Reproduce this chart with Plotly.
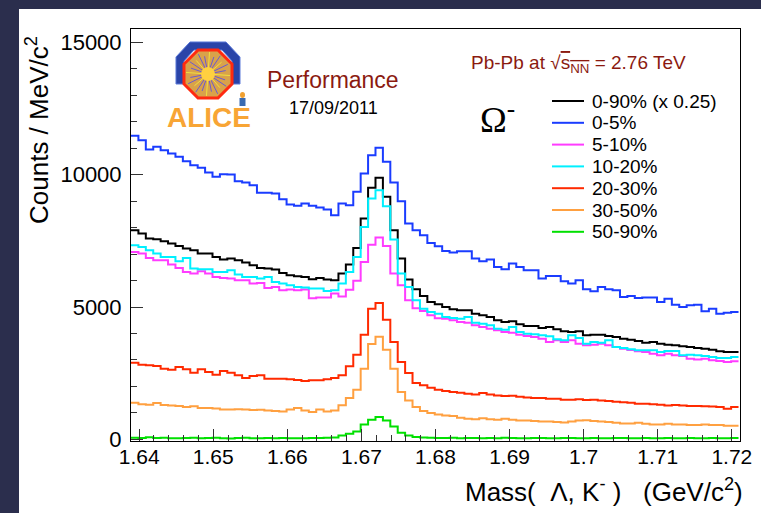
import numpy as np
import plotly.graph_objects as go

# ---------------- data ----------------
bin_low = 1.6389
bin_width = 0.001
n_bins = 82

labels = ["0-90% (x 0.25)", "0-5%", "5-10%", "10-20%", "20-30%", "30-50%", "50-90%"]
colors = ["#000000", "#1a3cff", "#ff3cff", "#00f0ff", "#ff2a00", "#ffa040", "#00e000"]

c0_90 = [7900, 7774, 7585, 7560, 7484, 7396, 7308, 7207, 7144, 7018, 7018, 6892, 6791, 6829, 6766, 6678,
         6577, 6476, 6451, 6413, 6287, 6199, 6161, 6136, 6048, 6098, 6035, 6010, 6262, 6602, 7232, 8341,
         9500, 9878, 9160, 7900, 6829, 6035, 5670, 5418, 5191, 5103, 5002, 4914, 4876, 4876, 4750, 4687,
         4624, 4498, 4435, 4460, 4347, 4284, 4284, 4208, 4246, 4158, 4082, 4057, 4082, 3931, 3956, 3956,
         3906, 3868, 3805, 3767, 3717, 3654, 3679, 3616, 3578, 3553, 3515, 3490, 3452, 3427, 3389, 3326,
         3301, 3301]
c0_5 = [11466, 11302, 10949, 11050, 10924, 10798, 10672, 10508, 10357, 10256, 10080, 9916, 10017, 10004,
        9752, 9702, 9601, 9311, 9311, 9286, 9072, 8870, 8820, 8908, 8820, 8757, 8681, 8467, 8908, 8845,
        9349, 10042, 10735, 11012, 10483, 9702, 8996, 8152, 7900, 7711, 7421, 7295, 7120, 7056, 7106, 7106,
        6829, 6728, 6791, 6514, 6426, 6640, 6514, 6388, 6388, 6073, 6174, 6174, 5972, 5884, 6010, 5670,
        5594, 5758, 5670, 5632, 5380, 5418, 5342, 5355, 5355, 5191, 5317, 5090, 5002, 5065, 5090, 4838,
        4939, 4750, 4788, 4813]
c5_10 = [7081, 7018, 6854, 6766, 6766, 6602, 6476, 6325, 6262, 6350, 6262, 6136, 6098, 6073, 6010, 6010,
         5884, 5909, 5720, 5758, 5632, 5657, 5632, 5657, 5330, 5355, 5355, 5506, 5400, 5650, 5990, 6700,
         7350, 7623, 7300, 6262, 5821, 5254, 4950, 4850, 4690, 4580, 4561, 4498, 4435, 4410, 4309, 4246,
         4183, 4120, 4057, 4032, 3956, 3906, 3868, 3805, 3679, 3742, 3679, 3742, 3616, 3553, 3578, 3616,
         3553, 3490, 3427, 3380, 3326, 3300, 3238, 3175, 3238, 3175, 3150, 3049, 3020, 3049, 2986, 2960,
         2923, 2950]
c10_20 = [7333, 7270, 7144, 7018, 6892, 6892, 6728, 6854, 6451, 6426, 6426, 6325, 6325, 6388, 6224, 6136,
          6136, 6073, 6136, 5947, 5884, 5821, 5758, 5733, 5695, 5695, 5607, 5632, 5884, 6325, 6892, 8026,
          9097, 9412, 8807, 7547, 6262, 5758, 5254, 4939, 4813, 4750, 4624, 4586, 4561, 4624, 4410, 4372,
          4309, 4183, 4145, 4246, 4057, 3994, 3969, 3931, 3893, 3780, 3742, 3931, 3830, 3616, 3679, 3654,
          3742, 3490, 3452, 3402, 3364, 3364, 3364, 3301, 3339, 3339, 3175, 3200, 3175, 3150, 3112, 3074,
          3074, 3112]
c20_30 = [2898, 2822, 2797, 2772, 2671, 2633, 2734, 2646, 2520, 2646, 2545, 2444, 2583, 2520, 2419, 2318,
          2394, 2419, 2293, 2293, 2293, 2268, 2240, 2205, 2230, 2230, 2268, 2318, 2419, 2759, 3200, 3956,
          4939, 5153, 4523, 3679, 2923, 2507, 2129, 2041, 1953, 1877, 1827, 1790, 1760, 1726, 1700, 1750,
          1700, 1660, 1638, 1650, 1610, 1580, 1560, 1560, 1537, 1537, 1500, 1500, 1520, 1490, 1500, 1474,
          1450, 1420, 1400, 1380, 1348, 1348, 1330, 1310, 1285, 1300, 1285, 1260, 1260, 1250, 1240, 1222,
          1160, 1222]
c30_50 = [1386, 1330, 1310, 1373, 1300, 1285, 1260, 1222, 1250, 1184, 1184, 1170, 1134, 1134, 1140, 1134,
          1110, 1120, 1096, 1070, 1058, 1134, 1184, 1096, 1033, 1134, 1058, 1096, 1290, 1560, 1877, 2671,
          3604, 3881, 3389, 2671, 1789, 1474, 1222, 1071, 995, 945, 907, 880, 820, 781, 760, 800,
          760, 740, 781, 740, 718, 718, 700, 680, 680, 655, 640, 680, 718, 719, 700, 680,
          655, 630, 605, 605, 630, 590, 567, 567, 590, 567, 567, 540, 540, 567, 540, 540,
          517, 517]
c50_90 = [60, 55, 80, 50, 60, 45, 40, 55, 60, 45, 50, 60, 40, 35, 50, 60, 45, 40, 55, 40, 50, 45, 40, 45,
          50, 55, 60, 70, 150, 214, 302, 567, 743, 845, 718, 491, 252, 151, 88, 70, 60, 55, 50, 60,
          45, 50, 55, 40, 50, 45, 60, 50, 40, 45, 55, 50, 40, 45, 50, 55, 40, 45, 50, 40, 45, 50,
          55, 40, 45, 50, 40, 45, 50, 40, 45, 55, 40, 45, 50, 40, 45, 50]

series = [c0_90, c0_5, c5_10, c10_20, c20_30, c30_50, c50_90]

x_ticks = [1.64, 1.65, 1.66, 1.67, 1.68, 1.69, 1.70, 1.71, 1.72]
x_tick_text = ["1.64", "1.65", "1.66", "1.67", "1.68", "1.69", "1.7", "1.71", "1.72"]
y_ticks = [0, 5000, 10000, 15000]
y_tick_text = ["0", "5000", "10000", "15000"]

# ---------------- figure ----------------
W, H = 761, 513
L, R, T, B = 131, 740, 29, 441  # plot area in pixels


def px(x):
    return (x - L) / (R - L)


def py(y):
    return (B - y) / (B - T)


edges = bin_low + bin_width * np.arange(n_bins + 1)

fig = go.Figure()
for name, col, vals in zip(labels, colors, series):
    v = list(vals) + [vals[-1]]
    fig.add_trace(go.Scatter(x=edges, y=v, mode="lines", name=name, showlegend=False,
                             line=dict(color=col, width=2, shape="hv")))

font = "Liberation Sans, Arial, Helvetica, sans-serif"
BG = "#2b2e4d"

fig.update_layout(
    width=W, height=H,
    margin=dict(l=L, r=W - R, t=T, b=H - B, pad=0, autoexpand=False),
    paper_bgcolor=BG,
    plot_bgcolor="white",
    font=dict(family=font, color="black"),
    showlegend=False,
)

fig.update_xaxes(range=[bin_low, 1.7211], showgrid=False, zeroline=False,
                 showline=True, mirror=True, linecolor="black", linewidth=1,
                 ticks="inside", ticklen=12, tickcolor="#333", tickwidth=1,
                 tickvals=x_ticks, ticktext=x_tick_text, automargin=False,
                 ticklabelstandoff=-3,
                 tickfont=dict(size=21, family=font, color="black"),
                 minor=dict(ticks="inside", ticklen=6, dtick=0.002, tick0=1.64,
                            tickcolor="#333", showgrid=False))
fig.update_yaxes(range=[-60, 15500], showgrid=False, zeroline=False,
                 showline=True, mirror=True, linecolor="black", linewidth=1,
                 ticks="inside", ticklen=12, tickcolor="#333", tickwidth=1,
                 tickvals=y_ticks, ticktext=y_tick_text, automargin=False,
                 ticklabelstandoff=4,
                 tickfont=dict(size=22, family=font, color="black"),
                 minor=dict(ticks="inside", ticklen=6, dtick=1000, tick0=0,
                            tickcolor="#333", showgrid=False))

shapes = []
# white panel
shapes.append(dict(type="rect", xref="paper", yref="paper", layer="below",
                   x0=px(19), x1=px(761), y0=py(513), y1=py(9),
                   fillcolor="white", line=dict(width=0)))


def path_from(points):
    return "M " + " L ".join(f"{px(a):.5f},{py(b):.5f}" for a, b in points) + " Z"


# ALICE logo (approximation)
arch = [(176, 84), (176, 57), (190, 42), (226, 42), (240, 57), (240, 84),
        (232, 84), (232, 61), (222, 50), (194, 50), (184, 61), (184, 84)]
shapes.append(dict(type="path", xref="paper", yref="paper", path=path_from(arch),
                   fillcolor="#2a44a8", line=dict(color="#5a78d8", width=1)))
cx, cy, rr = 208, 74, 26
octa = [(cx + rr * np.cos(np.radians(22.5 + 45 * k)), cy + rr * np.sin(np.radians(22.5 + 45 * k)))
        for k in range(8)]
shapes.append(dict(type="path", xref="paper", yref="paper", path=path_from(octa),
                   fillcolor="#d9a24a", line=dict(color="#ff2a10", width=3)))
for k in range(24):
    a = np.radians(k * 15 + 4)
    r1 = 22 if k % 2 == 0 else 18
    shapes.append(dict(type="line", xref="paper", yref="paper",
                       x0=px(cx), y0=py(cy),
                       x1=px(cx + r1 * np.cos(a)), y1=py(cy + r1 * np.sin(a)),
                       line=dict(color="#6a5ad0" if k % 3 else "#f0e040", width=1)))
shapes.append(dict(type="circle", xref="paper", yref="paper",
                   x0=px(cx - 7), x1=px(cx + 7), y0=py(cy + 7), y1=py(cy - 7),
                   fillcolor="#ffd040", line=dict(width=0)))
shapes.append(dict(type="circle", xref="paper", yref="paper",
                   x0=px(240), x1=px(245), y0=py(98), y1=py(92),
                   fillcolor="#f0a030", line=dict(width=0)))
shapes.append(dict(type="rect", xref="paper", yref="paper",
                   x0=px(239.5), x1=px(245.5), y0=py(106), y1=py(98),
                   fillcolor="#3a6ab0", line=dict(width=0)))

# manual legend
leg_x0, leg_x1, leg_text_x = 552, 584, 590
leg_y0, leg_dy = 101, 21.8
ann = []
for i, (name, col) in enumerate(zip(labels, colors)):
    yy = leg_y0 + i * leg_dy
    shapes.append(dict(type="line", xref="paper", yref="paper",
                       x0=px(leg_x0), x1=px(leg_x1), y0=py(yy), y1=py(yy),
                       line=dict(color=col, width=2)))
    ann.append(dict(text=name, x=px(leg_text_x), y=py(yy), xref="paper", yref="paper",
                    showarrow=False, xanchor="left", yanchor="middle",
                    font=dict(size=19, color="black", family=font)))

fig.update_layout(shapes=shapes)

nb = "\u00a0"
ann.append(dict(text="<b>ALICE</b>", x=px(209), y=py(117), xref="paper", yref="paper",
                showarrow=False, xanchor="center", yanchor="middle",
                font=dict(size=28, color="#f8a535", family=font)))
ann.append(dict(text="Performance", x=px(333), y=py(80), xref="paper", yref="paper",
                showarrow=False, xanchor="center", yanchor="middle",
                font=dict(size=23, color="#8b1a10", family=font)))
ann.append(dict(text="17/09/2011", x=px(333), y=py(108), xref="paper", yref="paper",
                showarrow=False, xanchor="center", yanchor="middle",
                font=dict(size=18, color="black", family=font)))
ann.append(dict(text="Pb-Pb at √<span style='text-decoration:overline'>s<sub>NN</sub></span> = 2.76 TeV",
                x=px(469), y=py(64), xref="paper", yref="paper",
                showarrow=False, xanchor="left", yanchor="middle",
                font=dict(size=19, color="#8b1a10", family=font)))
ann.append(dict(text="Ω<sup>-</sup>", x=px(478), y=py(117), xref="paper", yref="paper",
                showarrow=False, xanchor="left", yanchor="middle",
                font=dict(size=36, color="black", family="Liberation Serif, serif")))
ann.append(dict(text=f"Counts{nb}/{nb}MeV/c<sup>2</sup>", x=px(37), y=py(34), xref="paper", yref="paper",
                showarrow=False, xanchor="center", yanchor="top", textangle=-90,
                font=dict(size=26, color="black", family=font)))
ann.append(dict(text=f"Mass({nb}{nb}Λ,{nb}K<sup>-</sup>{nb}){nb}{nb}{nb}(GeV/c<sup>2</sup>)",
                x=px(745), y=py(490), xref="paper", yref="paper",
                showarrow=False, xanchor="right", yanchor="middle",
                font=dict(size=26, color="black", family=font)))
fig.update_layout(annotations=ann)

fig.write_html("out.html", config={"displayModeBar": False},
               post_script=f"document.documentElement.style.margin='0';document.body.style.margin='0';"
                           f"document.body.style.background='{BG}';")
